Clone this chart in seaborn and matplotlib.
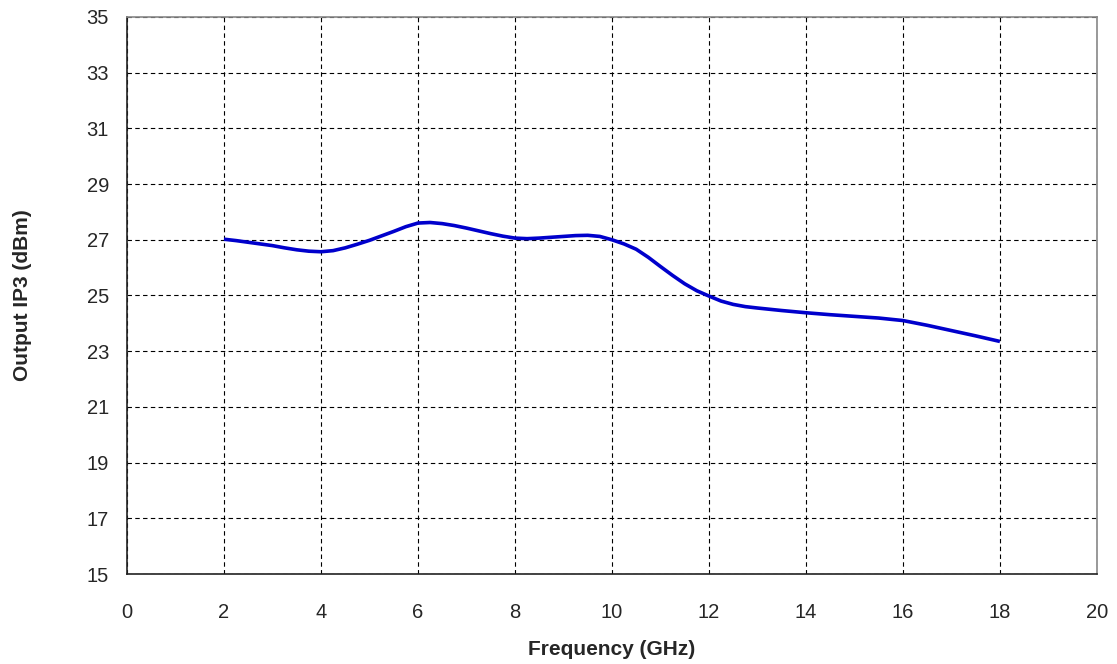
import pandas as pd
import seaborn as sns
import matplotlib.pyplot as plt

sns.set_style("white")
plt.rcParams['font.family'] = ['Liberation Sans', 'DejaVu Sans']
plt.rcParams.update({'font.size': 14})

# values (finer steps where it bends)
freq_ghz = [2, 2.25, 2.5, 2.75, 3, 3.25, 3.5, 3.75, 4, 4.25, 4.5, 4.75, 5,
            5.25, 5.5, 5.75, 6, 6.25, 6.5, 6.75, 7, 7.25, 7.5, 7.75, 8, 8.25,
            8.5, 8.75, 9, 9.25, 9.5, 9.75, 10, 10.25, 10.5, 10.75, 11, 11.25,
            11.5, 11.75, 12, 12.25, 12.5, 12.75, 13, 13.5, 14, 14.5, 15, 15.5,
            16, 16.5, 17, 17.5, 18]
oip3_dbm = [27.02, 26.97, 26.91, 26.85, 26.79, 26.71, 26.64, 26.59, 26.57,
            26.61, 26.71, 26.84, 26.98, 27.14, 27.30, 27.47, 27.60, 27.62,
            27.58, 27.51, 27.42, 27.32, 27.22, 27.13, 27.06, 27.04, 27.06,
            27.09, 27.12, 27.15, 27.16, 27.12, 27.00, 26.85, 26.66, 26.37,
            26.04, 25.72, 25.42, 25.17, 24.98, 24.80, 24.68, 24.60, 24.55,
            24.46, 24.38, 24.31, 24.25, 24.19, 24.10, 23.93, 23.74, 23.55,
            23.35]
x_ticks = list(range(0, 21, 2))
y_ticks = list(range(15, 36, 2))

data = pd.DataFrame({'freq': freq_ghz, 'oip3': oip3_dbm})

fig = plt.figure(figsize=(11.17, 6.64), dpi=100)
ax = fig.add_axes([0.1137, 0.1355, 0.8683, 0.8390])

sns.lineplot(x='freq', y='oip3', data=data, ax=ax, color='#0000CC',
             linewidth=2.6, zorder=3)
for ln in ax.get_lines():
    ln.set_solid_joinstyle('round')
    ln.set_solid_capstyle('butt')

ax.set_xlim(0, 20)
ax.set_ylim(15, 35)
ax.set_xticks(x_ticks)
ax.set_yticks(y_ticks)
ax.grid(True, color='black', linestyle=(0, (4, 3)), linewidth=0.8)

for side in ['left', 'bottom']:
    ax.spines[side].set_color('#222222')
    ax.spines[side].set_linewidth(1.2)
for side in ['top', 'right']:
    ax.spines[side].set_color('#888888')
    ax.spines[side].set_linestyle((0, (3, 1)))
    ax.spines[side].set_linewidth(1.2)

ax.tick_params(axis='x', length=0, pad=21, labelsize=14.5)
ax.tick_params(axis='y', length=0, pad=13, labelsize=14.5)
ax.set_xlabel('Frequency (GHz)', fontweight='bold', fontsize=15, labelpad=13)
ax.set_ylabel('Output IP3 (dBm)', fontweight='bold', fontsize=15, labelpad=39)

fig.savefig('out.png', dpi=100)
